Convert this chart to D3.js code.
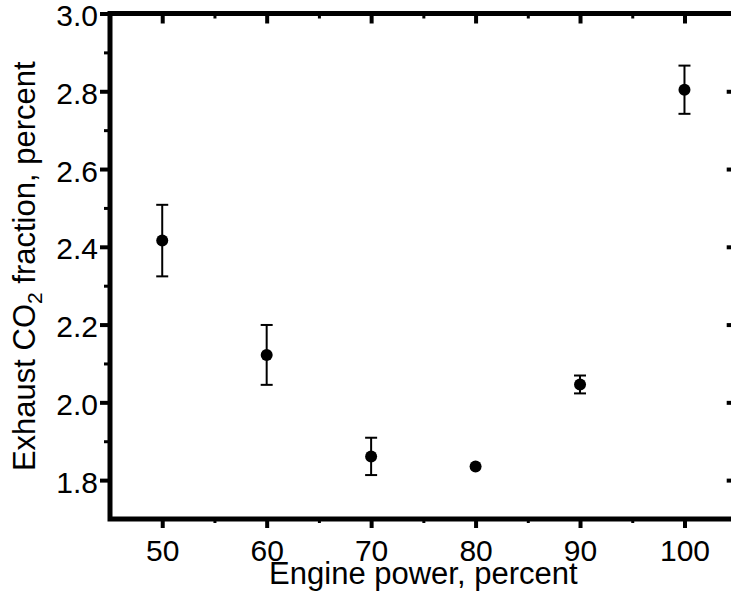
<!DOCTYPE html>
<html>
<head>
<meta charset="utf-8">
<script src="https://cdn.jsdelivr.net/npm/d3@7"></script>
<style>
  html, body { margin: 0; padding: 0; background: #fff; }
  svg { display: block; }
  text { font-family: "Liberation Sans", Arial, Helvetica, sans-serif; fill: #000; }
</style>
</head>
<body>
<svg id="chart" width="731" height="600"></svg>
<script>
// ---- data ----
const power = [50, 60, 70, 80, 90, 100];
const co2 = [2.416, 2.122, 1.861, 1.835, 2.046, 2.804];
const co2Err = [0.092, 0.077, 0.048, 0, 0.023, 0.062];
const xMajorTicks = [50, 60, 70, 80, 90, 100];
const xMinorTicks = [55, 65, 75, 85, 95];
const yMajorTicks = [1.8, 2.0, 2.2, 2.4, 2.6, 2.8, 3.0];
const yMinorTicks = [1.9, 2.1, 2.3, 2.5, 2.7, 2.9];
const xTitle = "Engine power, percent";

// ---- layout ----
const svg = d3.select("#chart");
const pL = 110, pR = 736.7, pT = 13.5, pB = 519;
const x = d3.scaleLinear().domain([45, 105]).range([pL, pR]);
const y = d3.scaleLinear().domain([1.7, 3.0]).range([pB, pT]);

function styleAxis(g, w, labels) {
  g.select(".domain").remove();
  g.selectAll(".tick line").attr("stroke", "#000").attr("stroke-width", w);
  g.selectAll(".tick text").attr("font-size", labels ? 30 : 0).attr("fill", "#000");
}

// minor axes
svg.append("g").attr("transform", `translate(${pL},0)`)
  .call(d3.axisLeft(y).tickValues(yMinorTicks).tickSize(6).tickFormat(""))
  .call(g => styleAxis(g, 3, false));
svg.append("g").attr("transform", `translate(0,${pB})`)
  .call(d3.axisBottom(x).tickValues(xMinorTicks).tickSize(4).tickFormat(""))
  .call(g => styleAxis(g, 3, false));
svg.append("g").attr("transform", `translate(0,${pT})`)
  .call(d3.axisBottom(x).tickValues(xMinorTicks).tickSize(5).tickFormat(""))
  .call(g => styleAxis(g, 3, false));

// major axes
svg.append("g").attr("transform", `translate(${pL},0)`)
  .call(d3.axisLeft(y).tickValues(yMajorTicks).tickSize(10).tickPadding(2).tickFormat(d3.format(".1f")))
  .call(g => styleAxis(g, 4, true))
  .call(g => g.selectAll(".tick text").attr("dy", "0.4em"));
svg.append("g").attr("transform", `translate(0,${pB})`)
  .call(d3.axisBottom(x).tickValues(xMajorTicks).tickSize(9).tickPadding(12).tickFormat(d3.format("d")))
  .call(g => styleAxis(g, 4, true));
svg.append("g").attr("transform", `translate(0,${pT})`)
  .call(d3.axisBottom(x).tickValues(xMajorTicks).tickSize(10).tickFormat(""))
  .call(g => styleAxis(g, 4, false));
svg.append("g").attr("transform", `translate(${pR},0)`)
  .call(d3.axisLeft(y).tickValues(yMajorTicks).tickSize(10).tickFormat(""))
  .call(g => styleAxis(g, 4, false));

// frame
svg.append("rect")
  .attr("x", x(45)).attr("y", y(3.0))
  .attr("width", x(105) - x(45)).attr("height", y(1.7) - y(3.0))
  .attr("fill", "none").attr("stroke", "#000").attr("stroke-width", 5);

// error bars
const pts = power.map((p, i) => ({ p, v: co2[i], e: co2Err[i] }));
const eb = svg.append("g").attr("stroke", "#000").attr("stroke-width", 2);
pts.filter(d => d.e > 0).forEach(d => {
  eb.append("line").attr("x1", x(d.p)).attr("x2", x(d.p))
    .attr("y1", y(d.v - d.e)).attr("y2", y(d.v + d.e));
  [d.v - d.e, d.v + d.e].forEach(v => {
    eb.append("line").attr("x1", x(d.p) - 6).attr("x2", x(d.p) + 6)
      .attr("y1", y(v)).attr("y2", y(v));
  });
});

// markers
svg.append("g").selectAll("circle").data(pts).join("circle")
  .attr("cx", d => x(d.p)).attr("cy", d => y(d.v)).attr("r", 6).attr("fill", "#000");

// titles
svg.append("text")
  .attr("x", (pL + pR) / 2).attr("y", 584)
  .attr("text-anchor", "middle").attr("font-size", 31)
  .text(xTitle);

const yt = svg.append("text")
  .attr("transform", `translate(35,${(pT + pB) / 2}) rotate(-90)`)
  .attr("text-anchor", "middle").attr("font-size", 31);
yt.append("tspan").text("Exhaust CO");
yt.append("tspan").attr("font-size", 21).attr("dy", 7).text("2");
yt.append("tspan").attr("dy", -7).text(" fraction, percent");
</script>
</body>
</html>
